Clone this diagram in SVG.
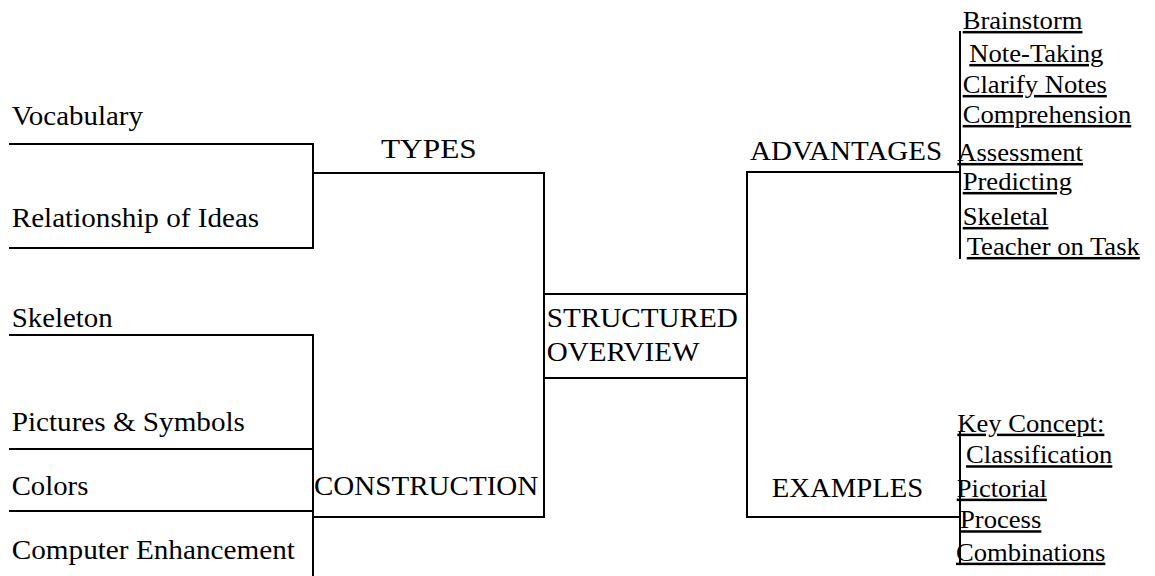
<svg xmlns="http://www.w3.org/2000/svg" width="1155" height="576" viewBox="0 0 1155 576">
  <style>
    text { font-family: "Liberation Serif", "Times New Roman", serif; fill: #000; }
    .lbl { font-size: 27px; }
    .item { font-size: 25px; text-decoration: underline; }
    .ln { stroke: #000; stroke-width: 2; fill: none; stroke-linecap: square; }
  </style>
  <rect width="1155" height="576" fill="#fff"/>

  <!-- bracket lines -->
  <g id="connectors">
    <!-- TYPES bracket -->
    <line class="ln" x1="10" y1="144" x2="313" y2="144"/>
    <line class="ln" x1="10" y1="248" x2="313" y2="248"/>
    <line class="ln" x1="313" y1="144" x2="313" y2="248"/>
    <line class="ln" x1="313" y1="173" x2="544" y2="173"/>
    <!-- CONSTRUCTION bracket -->
    <line class="ln" x1="10" y1="335" x2="313" y2="335"/>
    <line class="ln" x1="10" y1="449" x2="313" y2="449"/>
    <line class="ln" x1="10" y1="511" x2="313" y2="511"/>
    <line class="ln" x1="313" y1="335" x2="313" y2="577"/>
    <line class="ln" x1="313" y1="517" x2="544" y2="517"/>
    <!-- centre spine -->
    <line class="ln" x1="544" y1="173" x2="544" y2="517"/>
    <line class="ln" x1="747" y1="172" x2="747" y2="517"/>
    <!-- ADVANTAGES / EXAMPLES -->
    <line class="ln" x1="747" y1="172" x2="960" y2="172"/>
    <line class="ln" x1="747" y1="517" x2="960" y2="517"/>
    <line class="ln" x1="960" y1="32" x2="960" y2="258"/>
    <line class="ln" x1="960" y1="433" x2="960" y2="564"/>
  </g>

  <g id="structured-overview">
    <rect class="ln" x="544" y="294" width="203" height="84"/>
    <text class="lbl" transform="translate(546.7 326.7) scale(1.08 1)">STRUCTURED</text>
    <text class="lbl" transform="translate(546.7 360.7) scale(1.077 1)">OVERVIEW</text>
  </g>

  <g id="types">
    <text class="lbl" transform="translate(381 158.3) scale(1.16 1)">TYPES</text>
  </g>
  <g id="vocabulary">
    <text class="lbl" transform="translate(11.7 125) scale(1.072 1)">Vocabulary</text>
  </g>
  <g id="relationship-of-ideas">
    <text class="lbl" transform="translate(11.7 226.7) scale(1.079 1)">Relationship of Ideas</text>
  </g>

  <g id="construction">
    <text class="lbl" transform="translate(314 495) scale(1.076 1)">CONSTRUCTION</text>
  </g>
  <g id="skeleton">
    <text class="lbl" transform="translate(11.7 326.7) scale(1.069 1)">Skeleton</text>
  </g>
  <g id="pictures-symbols">
    <text class="lbl" transform="translate(11.7 430.7) scale(1.08 1)">Pictures &amp; Symbols</text>
  </g>
  <g id="colors">
    <text class="lbl" transform="translate(11.7 495) scale(1.065 1)">Colors</text>
  </g>
  <g id="computer-enhancement">
    <text class="lbl" transform="translate(11.7 559.3) scale(1.083 1)">Computer Enhancement</text>
  </g>

  <g id="advantages">
    <text class="lbl" transform="translate(750 160) scale(1.075 1)">ADVANTAGES</text>
  </g>
  <g id="advantages-list">
    <text class="item" transform="translate(962.7 29) scale(1.065 1)">Brainstorm</text>
    <text class="item" transform="translate(969.3 62) scale(1.065 1)">Note-Taking</text>
    <text class="item" transform="translate(962.7 93) scale(1.065 1)">Clarify Notes</text>
    <text class="item" transform="translate(962.7 123) scale(1.065 1)">Comprehension</text>
    <text class="item" transform="translate(957.3 161) scale(1.065 1)">Assessment</text>
    <text class="item" transform="translate(962.7 190) scale(1.065 1)">Predicting</text>
    <text class="item" transform="translate(962.7 225) scale(1.065 1)">Skeletal</text>
    <text class="item" transform="translate(966.7 255) scale(1.065 1)">Teacher on Task</text>
  </g>

  <g id="examples">
    <text class="lbl" transform="translate(771.7 496.7) scale(1.064 1)">EXAMPLES</text>
  </g>
  <g id="examples-list">
    <text class="item" transform="translate(957.3 431.7) scale(1.065 1)">Key Concept:</text>
    <text class="item" transform="translate(966 463.3) scale(1.065 1)">Classification</text>
    <text class="item" transform="translate(956.7 496.7) scale(1.065 1)">Pictorial</text>
    <text class="item" transform="translate(960 528.3) scale(1.065 1)">Process</text>
    <text class="item" transform="translate(956 560.7) scale(1.065 1)">Combinations</text>
  </g>
</svg>
